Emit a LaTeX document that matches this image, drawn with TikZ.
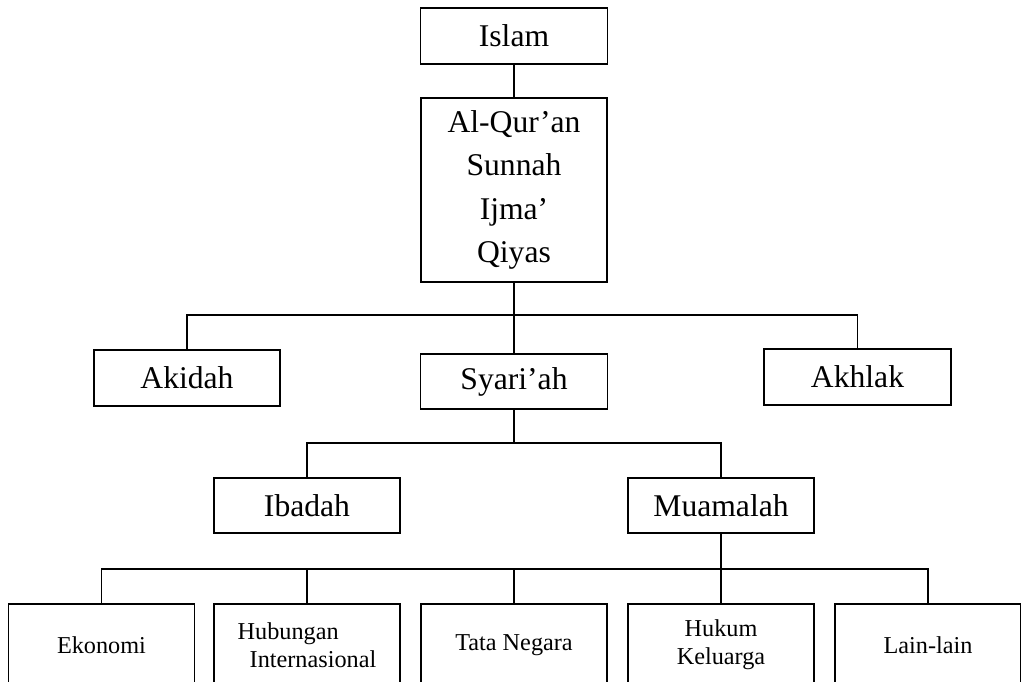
\documentclass[tikz,border=0pt]{standalone}
\usepackage{fontspec}
\setmainfont{Liberation Serif}
\usepackage{tikz}

\begin{document}
\begin{tikzpicture}[x=0.02cm, y=-0.02cm, line width=0.7pt,
		kotak/.style={draw, rectangle, inner sep=0pt, align=center, font=\fontsize{18}{24.8}\selectfont},
		kotakkecil/.style={draw, rectangle, inner sep=0pt, minimum width=3.72cm, minimum height=1.64cm, font=\fontsize{13.8}{16}\selectfont}]
				\useasboundingbox (0,0) rectangle (1021,681);
				\clip (0,0) rectangle (1021,681);
				\node[kotak, minimum width=3.74cm, minimum height=1.12cm] (islam)at(514, 36) {Islam};
				\node[kotak, minimum width=3.72cm, minimum height=3.68cm] (sumber)at(514, 190) {Al-Qur'an\\Sunnah\\Ijma'\\Qiyas};
				\node[kotak, minimum width=3.72cm, minimum height=1.12cm] (akidah)at(187, 378) {Akidah};
				\node[kotak, minimum width=3.74cm, minimum height=1.10cm] (syariah)at(514, 381.5) {Syari'ah};
				\node[kotak, minimum width=3.74cm, minimum height=1.12cm] (akhlak)at(857.5, 377) {Akhlak};
				\node[kotak, minimum width=3.72cm, minimum height=1.10cm] (ibadah)at(307, 505.5) {Ibadah};
				\node[kotak, minimum width=3.72cm, minimum height=1.10cm] (muamalah)at(721, 505.5) {Muamalah};
				\node[kotakkecil] (ekonomi)at(101.5, 645) {Ekonomi};
				\node[kotakkecil, align=left] (hubungan)at(307, 645) {Hubungan\\\hspace*{0.24cm}Internasional};
				\node[kotakkecil] (tata)at(514, 645) {Tata Negara};
				\node[kotakkecil, align=center] (hukum)at(721, 645) {Hukum\\Keluarga};
				\node[kotakkecil] (lain)at(928, 645) {Lain-lain};
				\coordinate (j1) at (514, 315);
				\coordinate (j2) at (514, 443);
				\coordinate (j3) at (721, 569);
				\draw (islam) -- (sumber);
				\draw (sumber) -- (syariah);
				\draw (akidah) |- (j1) -| (akhlak);
				\draw (syariah) -- (j2);
				\draw (ibadah) |- (j2) -| (muamalah);
				\draw (muamalah) -- (hukum);
				\draw (ekonomi) |- (j3) -| (lain);
				\draw (hubungan) -- (hubungan |- j3);
				\draw (tata) -- (tata |- j3);
			\end{tikzpicture}
\end{document}
